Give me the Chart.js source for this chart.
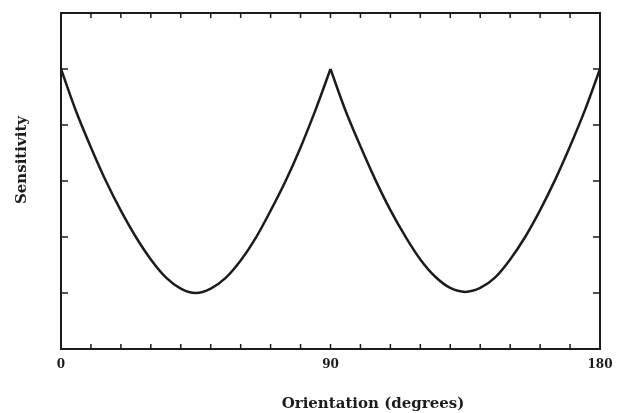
<!DOCTYPE html>
<html>
<head>
<meta charset="utf-8">
<script src="https://cdn.jsdelivr.net/npm/chart.js@4/dist/chart.umd.min.js"></script>
<style>
  html, body { margin: 0; padding: 0; background: #fff; }
  #wrap { width: 617px; height: 413px; }
</style>
</head>
<body>
<div id="wrap"><canvas id="sensChart" width="617" height="413"></canvas></div>
<script>
// Orientation in degrees and the sensitivity
const angles = [0, 5, 10, 15, 20, 25, 30, 35, 40, 45, 50, 55, 60, 65, 70, 75, 80, 85, 90,
    95, 100, 105, 110, 115, 120, 125, 130, 135, 140, 145, 150, 155, 160, 165, 170, 175, 180];
const sensitivity = [5.0, 4.25, 3.6, 3.0, 2.47, 2.0, 1.6, 1.28, 1.08, 1.0, 1.08, 1.27, 1.58, 1.98, 2.47, 3.0, 3.6, 4.27, 5.0,
    4.26, 3.62, 3.02, 2.48, 2.01, 1.6, 1.29, 1.09, 1.02, 1.09, 1.28, 1.6, 2.0, 2.48, 3.02, 3.62, 4.27, 5.0];

const xLabelValues = [0, 90, 180];
const xMinorTicks = [10, 20, 30, 40, 50, 60, 70, 80, 90, 100, 110, 120, 130, 140, 150, 160, 170];
const yTicks = [1, 2, 3, 4, 5];

const ink = '#1c1c1c';
const serif = '"DejaVu Serif", "Liberation Serif", serif';

// the curve has sharp cusps at 0, 90 and 180, so draw each lobe as its own smooth piece
function lobe(from, to) {
    const pts = [];
    for (let i = 0; i < angles.length; i++) {
        if (angles[i] >= from && angles[i] <= to) {
            pts.push({ x: angles[i], y: sensitivity[i] });
        }
    }
    return pts;
}

// frame, inward ticks and axis titles
const framePlugin = {
    id: 'frame',
    afterDraw: function(chart) {
        const ctx = chart.ctx;
        const a = chart.chartArea;
        const xs = chart.scales.x;
        const ys = chart.scales.y;

        ctx.save();
        ctx.strokeStyle = ink;
        ctx.lineWidth = 2;
        ctx.strokeRect(a.left, a.top, a.right - a.left, a.bottom - a.top);

        ctx.lineWidth = 1.5;
        ctx.beginPath();
        xMinorTicks.forEach(function(v) {
            const px = xs.getPixelForValue(v);
            ctx.moveTo(px, a.bottom);
            ctx.lineTo(px, a.bottom - 5);
            ctx.moveTo(px, a.top);
            ctx.lineTo(px, a.top + 5);
        });
        yTicks.forEach(function(v) {
            const py = ys.getPixelForValue(v);
            ctx.moveTo(a.left, py);
            ctx.lineTo(a.left + 7, py);
            ctx.moveTo(a.right, py);
            ctx.lineTo(a.right - 7, py);
        });
        ctx.stroke();

        ctx.fillStyle = ink;
        ctx.font = `bold 15px ${serif}`;
        ctx.textAlign = 'center';
        ctx.textBaseline = 'middle';
        ctx.fillText('Orientation (degrees)', 373, 404);

        ctx.translate(22, 160);
        ctx.rotate(-Math.PI / 2);
        ctx.fillText('Sensitivity', 0, 0);
        ctx.restore();
    }
};

const ctx = document.getElementById('sensChart').getContext('2d');
const sensChart = new Chart(ctx, {
    type: 'line',
    data: {
        datasets: [
            { data: lobe(0, 90), borderColor: ink, borderWidth: 2.5, pointRadius: 0, tension: 0.35, fill: false },
            { data: lobe(90, 180), borderColor: ink, borderWidth: 2.5, pointRadius: 0, tension: 0.35, fill: false }
        ]
    },
    options: {
        responsive: false,
        animation: false,
        layout: { padding: { top: 13, right: 17, left: 0, bottom: 0 } },
        plugins: {
            legend: { display: false },
            tooltip: { enabled: false }
        },
        scales: {
            x: {
                type: 'linear',
                min: 0,
                max: 180,
                afterFit: function(scale) {
                    scale.height = 64;
                    scale.paddingLeft = 0;
                    scale.paddingRight = 0;
                },
                afterBuildTicks: function(scale) {
                    scale.ticks = xLabelValues.map(function(v) { return { value: v }; });
                },
                grid: { display: false, drawTicks: false },
                border: { display: false },
                ticks: {
                    padding: 9,
                    color: ink,
                    maxRotation: 0,
                    font: { family: serif, size: 12, weight: 'bold' }
                }
            },
            y: {
                min: 0,
                max: 6,
                afterFit: function(scale) { scale.width = 61; },
                grid: { display: false, drawTicks: false },
                border: { display: false },
                ticks: { display: false }
            }
        }
    },
    plugins: [framePlugin]
});
</script>
</body>
</html>
